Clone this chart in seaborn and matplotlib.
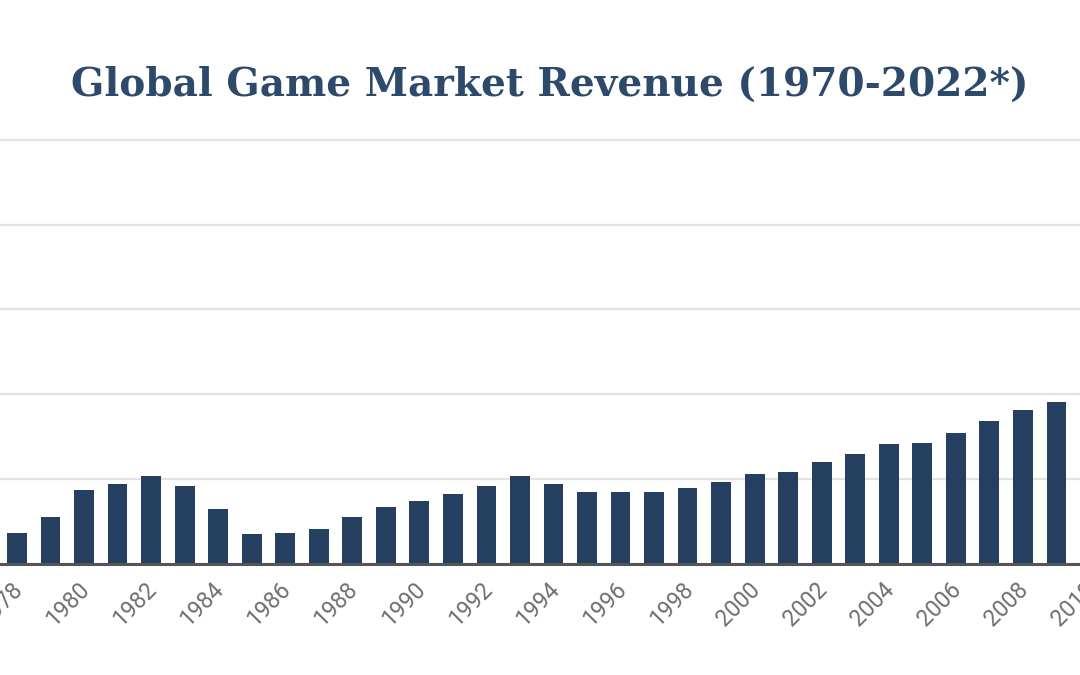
import matplotlib
matplotlib.use('Agg')
from matplotlib import pyplot as plt
from matplotlib import transforms
import pandas as pd
import seaborn as sns

# Global game market revenue, visible part of the chart (1978-2010)
years = list(range(1978, 2011))
revenue = [18.3, 27.5, 43.8, 47.1, 52.0, 45.9, 32.4, 17.4, 18.3, 20.7,
           27.5, 33.4, 36.9, 41.4, 45.9, 52.0, 47.1, 42.6, 42.6, 42.6,
           45.0, 48.6, 53.3, 54.5, 60.0, 64.7, 70.5, 71.5, 77.2, 84.2,
           91.0, 95.7, 97.3]
tick_years = list(range(1976, 2012, 2))
title = 'Global Game Market Revenue (1970-2022*)'

df = pd.DataFrame({'year': years, 'revenue': revenue})

sns.set_style('whitegrid')
fig = plt.figure(figsize=(10.8, 6.75), dpi=100)

# axes run past the figure edges so the chart looks cropped
px_per_year = 33.53
x0, x1 = 1975.5, 2011.5
left_px = 17 - (1978 - x0) * px_per_year
width_px = (x1 - x0) * px_per_year
ax = fig.add_axes([left_px / 1080, (675 - 564) / 675, width_px / 1080, (564 - 138) / 675])

sns.barplot(data=df, x='year', y='revenue', native_scale=True, width=0.59,
            color='#243f5f', saturation=1, linewidth=0, ax=ax)

ax.set_xticks(tick_years)
ax.set_xticklabels([str(y) for y in tick_years], rotation=45, ha='right', va='center',
                   rotation_mode='anchor', fontsize=16.5, color='#6e6e6e', family='Roboto')
ax.tick_params(axis='x', length=0, pad=16)
shift = transforms.ScaledTranslation(0.02, 0, fig.dpi_scale_trans)
for lab in ax.get_xticklabels():
    lab.set_transform(lab.get_transform() + shift)

ax.set_yticks([0, 50, 100, 150, 200, 250])
ax.set_yticklabels([])
ax.tick_params(axis='y', length=0)
ax.set_xlim(x0, x1)
ax.set_ylim(0, 251)
ax.grid(axis='y', color='#e3e3e3', linewidth=1.6)
ax.grid(axis='x', visible=False)
ax.set_axisbelow(True)
for s in ['top', 'right', 'left']:
    ax.spines[s].set_visible(False)
ax.spines['bottom'].set_color('#555555')
ax.spines['bottom'].set_linewidth(2.2)
ax.set_xlabel('')
ax.set_ylabel('')

t = fig.text(550 / 1080, (675 - 96) / 675, title, fontsize=30, family='DejaVu Serif',
             fontweight='bold', color='#2d4a6b', ha='center', va='baseline')
fig.canvas.draw()
w = t.get_window_extent().width
t.set_fontsize(30 * 954 / w)

fig.savefig('out.png', dpi=100)
